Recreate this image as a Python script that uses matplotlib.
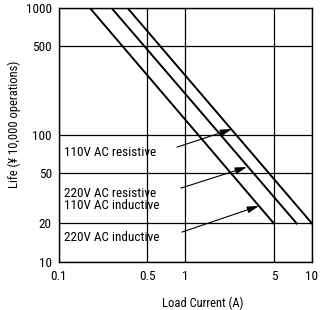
import matplotlib
matplotlib.use('Agg')
from matplotlib import pyplot as plt
from matplotlib.ticker import FixedLocator, NullLocator

plt.rcParams['font.family'] = ['Roboto Condensed', 'DejaVu Sans']

# load current (A) vs life (x10,000 operations), straight lines on log-log
cur_220_ind = [0.176, 5.0]
life_220_ind = [1000, 20]
cur_mid = [0.261, 7.57]          # 220V AC resistive / 110V AC inductive
life_mid = [1000, 20]
cur_110_res = [0.349, 10.0]
life_110_res = [1000, 20]

x_ticks = [0.1, 0.5, 1, 5, 10]
x_labels = ['0.1', '0.5', '1', '5', '10']
y_ticks = [10, 20, 50, 100, 500, 1000]
y_labels = ['10', '20', '50', '100', '500', '1000']

fig = plt.figure(figsize=(3.2, 3.1), dpi=100)
ax = fig.add_axes([0.184, 0.156, 0.791, 0.818])
ax.set_xscale('log')
ax.set_yscale('log')
ax.set_xlim(0.1, 10)
ax.set_ylim(10, 1000)

ax.plot(cur_220_ind, life_220_ind, c='black', lw=1.4)
ax.plot(cur_mid, life_mid, c='black', lw=1.4)
ax.plot(cur_110_res, life_110_res, c='black', lw=1.4)

ax.xaxis.set_major_locator(FixedLocator(x_ticks))
ax.xaxis.set_minor_locator(NullLocator())
ax.set_xticklabels(x_labels)
ax.yaxis.set_major_locator(FixedLocator(y_ticks))
ax.yaxis.set_minor_locator(NullLocator())
ax.set_yticklabels(y_labels)
ax.tick_params(length=0, labelsize=9.5)
ax.tick_params(axis='x', pad=6)
ax.tick_params(axis='y', pad=5)
ax.grid(which='major', c='black', lw=0.9)
for s in ax.spines.values():
    s.set_linewidth(1.0)

arrow = dict(arrowstyle='-|>,head_length=0.7,head_width=0.2', color='black', lw=0.8, shrinkA=0, shrinkB=0)
ax.text(0.1095, 73, '110V AC resistive', fontsize=9.5, va='center', ha='left')
ax.annotate('', xy=(2.33, 111), xytext=(0.857, 80), arrowprops=arrow)
ax.text(0.1095, 30.9, '220V AC resistive\n110V AC inductive', fontsize=9.5, va='center', ha='left',
        linespacing=0.95)
ax.annotate('', xy=(3.06, 55.7), xytext=(0.92, 38), arrowprops=arrow)
ax.text(0.1095, 15.4, '220V AC inductive', fontsize=9.5, va='center', ha='left')
ax.annotate('', xy=(3.81, 27.5), xytext=(0.938, 17.1), arrowprops=arrow)

ax.set_xlabel('Load Current (A)', fontsize=9)
ax.set_ylabel('Life (¥ 10,000 operations)', fontsize=9)
ax.xaxis.set_label_coords(0.57, -0.138)
ax.yaxis.set_label_coords(-0.15, 0.54)

fig.savefig('out.png', dpi=100)
